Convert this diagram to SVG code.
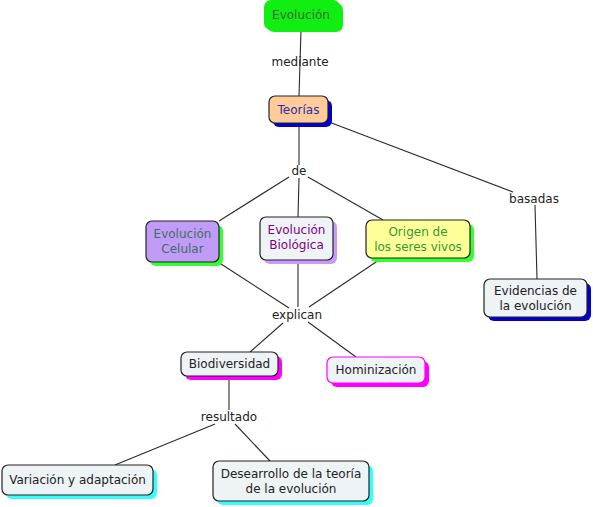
<svg xmlns="http://www.w3.org/2000/svg" width="593" height="507" viewBox="0 0 593 507">
<style>
text{font-family:"DejaVu Sans","Liberation Sans",sans-serif;font-size:12px;text-anchor:middle;fill:#222}
.box{stroke:#222;stroke-width:1.2}
.lt{fill:#eef3f6}
.c line{stroke:#2a2a2a;stroke-width:1.1}
text.tg{fill:#3a6a3a}
text.tb{fill:#2a2ab0}
text.tc{fill:#3f6f5f}
text.tp{fill:#800080}
text.to{fill:#339933}
</style>
<rect width="593" height="507" fill="#fff"/>
<g class="c" id="connectors">
<line x1="301" y1="30" x2="299" y2="96"/>
<line x1="299" y1="123" x2="299" y2="165"/>
<line x1="289" y1="177" x2="219" y2="221"/>
<line x1="299" y1="178" x2="298" y2="217"/>
<line x1="308" y1="177" x2="383" y2="220"/>
<line x1="329" y1="122" x2="513" y2="192"/>
<line x1="535" y1="205" x2="537" y2="279"/>
<line x1="218" y1="262" x2="289" y2="308"/>
<line x1="298" y1="260" x2="298" y2="307"/>
<line x1="382" y1="258" x2="309" y2="307"/>
<line x1="283" y1="323" x2="250" y2="352"/>
<line x1="308" y1="322" x2="356" y2="357"/>
<line x1="229" y1="376" x2="229" y2="410"/>
<line x1="215" y1="424" x2="115" y2="465"/>
<line x1="235" y1="424" x2="270" y2="461"/>
</g>
<g id="lbl-mediante"><text x="300" y="66">mediante</text></g>
<g id="lbl-de"><text x="299" y="175">de</text></g>
<g id="lbl-basadas"><text x="534" y="203">basadas</text></g>
<g id="lbl-explican"><text x="297" y="319">explican</text></g>
<g id="lbl-resultado"><text x="229" y="421">resultado</text></g>

<g id="n-evolucion">
<rect x="267" y="3" width="76" height="29" rx="7" fill="#11ee11"/>
<rect x="264" y="0" width="76" height="30" rx="7" fill="#11ee11"/>
<text class="tg" x="301" y="19">Evolución</text>
</g>
<g id="n-teorias">
<rect x="273" y="100" width="59" height="27" rx="6" fill="#0000cc"/>
<rect class="box" x="269" y="96" width="59" height="27" rx="6" fill="#ffcc99"/>
<text class="tb" x="298.5" y="114">Teorías</text>
</g>
<g id="n-celular">
<rect x="150" y="225" width="73" height="41" rx="6" fill="#33ff33"/>
<rect class="box" x="146" y="221" width="73" height="41" rx="6" fill="#c09cf8"/>
<text class="tc" x="182.5" y="238">Evolución</text>
<text class="tc" x="182.5" y="253">Celular</text>
</g>
<g id="n-biologica">
<rect x="264" y="221" width="73" height="43" rx="6" fill="#cc99ff"/>
<rect class="box lt" x="260" y="217" width="73" height="43" rx="6"/>
<text class="tp" x="296.5" y="234">Evolución</text>
<text class="tp" x="296.5" y="249">Biológica</text>
</g>
<g id="n-origen">
<rect x="370" y="224" width="104" height="38" rx="6" fill="#33ff33"/>
<rect class="box" x="366" y="220" width="104" height="38" rx="6" fill="#ffff99"/>
<text class="to" x="418" y="236">Origen de</text>
<text class="to" x="418" y="251">los seres vivos</text>
</g>
<g id="n-evidencias">
<rect x="488" y="283" width="103" height="38" rx="6" fill="#0000cc"/>
<rect class="box lt" x="484" y="279" width="103" height="38" rx="6"/>
<text x="535.5" y="295">Evidencias de</text>
<text x="535.5" y="310">la evolución</text>
</g>
<g id="n-biodiversidad">
<rect x="185" y="356" width="97" height="24" rx="6" fill="#ff00ff"/>
<rect class="box lt" x="181" y="352" width="97" height="24" rx="6"/>
<text x="229.5" y="368">Biodiversidad</text>
</g>
<g id="n-hominizacion">
<rect x="331" y="361" width="98" height="26" rx="6" fill="#ff00ff"/>
<rect x="327" y="357" width="98" height="26" rx="6" fill="#eef3f6" stroke="#ff00ff" stroke-width="1.2"/>
<text x="376" y="374">Hominización</text>
</g>
<g id="n-variacion">
<rect x="6" y="469" width="151" height="30" rx="6" fill="#33ffff"/>
<rect class="box lt" x="2" y="465" width="151" height="30" rx="6"/>
<text x="77.5" y="484">Variación y adaptación</text>
</g>
<g id="n-desearrollo">
<rect x="217" y="465" width="156" height="40" rx="6" fill="#33ffff"/>
<rect class="box lt" x="213" y="461" width="156" height="40" rx="6"/>
<text x="291" y="478">Desearrollo de la teoría</text>
<text x="291" y="493">de la evolución</text>
</g>
</svg>
